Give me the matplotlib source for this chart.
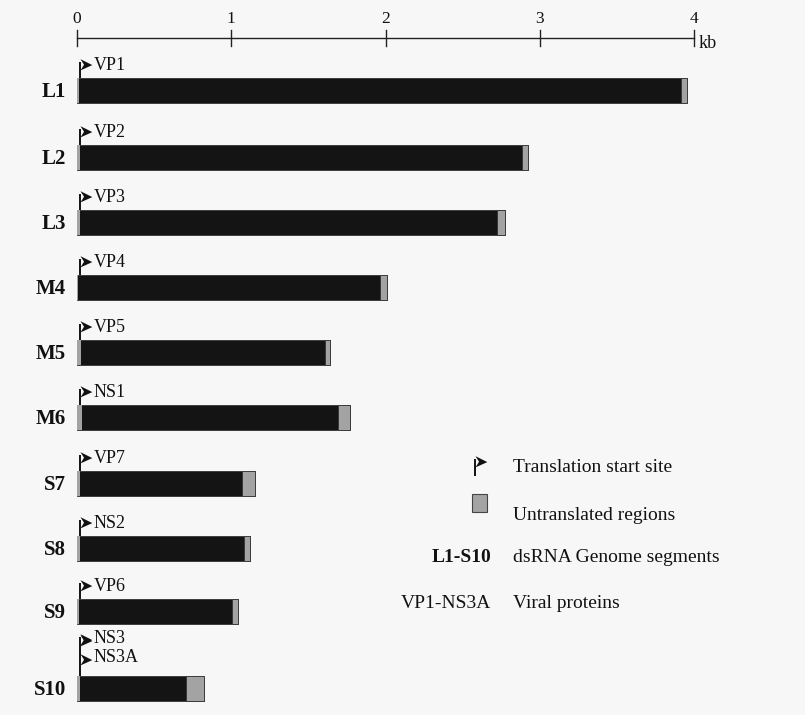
import matplotlib
matplotlib.use("Agg")
import matplotlib.pyplot as plt
from matplotlib.path import Path
from matplotlib.markers import MarkerStyle

# Bluetongue virus genome segments (lengths in kb)
segments = ["L1", "L2", "L3", "M4", "M5", "M6", "S7", "S8", "S9", "S10"]
lengths = [3.954, 2.926, 2.772, 2.011, 1.638, 1.769, 1.156, 1.124, 1.046, 0.822]
utr5 = [0.012, 0.020, 0.017, 0.009, 0.029, 0.034, 0.017, 0.019, 0.015, 0.019]
utr3 = [0.040, 0.039, 0.052, 0.044, 0.028, 0.076, 0.087, 0.040, 0.044, 0.113]
proteins = [["VP1"], ["VP2"], ["VP3"], ["VP4"], ["VP5"], ["NS1"],
            ["VP7"], ["NS2"], ["VP6"], ["NS3", "NS3A"]]
scale_ticks = [0, 1, 2, 3, 4]
scale_unit = "kb"

legend_items = [("flag", "Translation start site"),
                ("box", "Untranslated regions"),
                ("L1-S10", "dsRNA Genome segments"),
                ("VP1-NS3A", "Viral proteins")]

# layout (vertical units are figure pixels, top = 0)
row_y = [90, 157, 222, 287, 352, 417, 483, 548, 611, 688]
bar_h = 25
px_per_kb = 154.25
x0_px = 77

serif = ["Liberation Serif", "DejaVu Serif"]
bar_color = "#141414"
utr_color = "#a3a3a3"
bg = "#f7f7f7"
ink = "#111111"

fig = plt.figure(figsize=(8.05, 7.15), dpi=100, facecolor=bg)
ax = fig.add_axes([0, 0, 1, 1])
ax.set_facecolor(bg)
ax.set_xlim(-x0_px / px_per_kb, (805 - x0_px) / px_per_kb)
ax.set_ylim(715, 0)
ax.axis("off")

# flag-shaped start-site marker (origin at the tail)
flag_path = Path([(0, 0.45), (1.0, -0.05), (0, -0.5), (0.3, -0.02), (0, 0.45)],
                 [Path.MOVETO, Path.LINETO, Path.LINETO, Path.LINETO, Path.CLOSEPOLY])
flag_marker = MarkerStyle(flag_path)
flag_size = 17


def put_flag(x, y):
    ax.plot([x], [y], marker=flag_marker, markersize=flag_size,
            color=ink, markeredgewidth=0)


def draw_flag(x, y_base, height):
    ax.plot([x, x], [y_base, y_base - height], color=ink, lw=1.4,
            solid_capstyle="butt")
    put_flag(x, y_base - height + 2)


# scale bar
ax.plot([0, scale_ticks[-1]], [38, 38], color="#222222", lw=1.0)
for t in scale_ticks:
    ax.plot([t, t], [30, 46], color="#222222", lw=1.0)
    ax.text(t, 19, str(t), ha="center", va="center", fontsize=12.5,
            family=serif, color=ink)
ax.text(scale_ticks[-1] + 0.03, 44, scale_unit, ha="left", va="center",
        fontsize=13, family=serif, color=ink)

# genome segments
ax.barh(row_y, lengths, left=0, height=bar_h, color=bar_color,
        edgecolor="#333333", linewidth=0.6)
ax.barh(row_y, utr5, left=0, height=bar_h, color=utr_color,
        edgecolor="none")
ax.barh(row_y, utr3, left=[l - u for l, u in zip(lengths, utr3)],
        height=bar_h, color=utr_color, edgecolor="#333333", linewidth=0.6)

for name, y, prots in zip(segments, row_y, proteins):
    ax.text(-0.07, y + 2, name, ha="right", va="center", fontsize=15,
            fontweight="bold", family=serif, color=ink)
    top = y - bar_h / 2
    if len(prots) == 1:
        draw_flag(0.02, top, 16)
        ax.text(0.11, top - 12, prots[0], ha="left", va="center",
                fontsize=13, family=serif, color=ink)
    else:
        offsets = [37, 18]
        draw_flag(0.02, top, offsets[0] + 2)
        for p, off in zip(prots, offsets):
            put_flag(0.02, top - off + 1)
            ax.text(0.11, top - off, p, ha="left", va="center",
                    fontsize=13, family=serif, color=ink)

# key
key_x_icon = (479 - x0_px) / px_per_kb
key_x_text = (513 - x0_px) / px_per_kb
key_x_right = (491 - x0_px) / px_per_kb
key_y = [467, 516, 557, 604]
for (kind, desc), ky in zip(legend_items, key_y):
    if kind == "flag":
        draw_flag(key_x_icon - 0.025, ky + 9, 17)
    elif kind == "box":
        ax.bar([key_x_icon], [18], bottom=ky - 22, width=15 / px_per_kb,
               color=utr_color, edgecolor="#444444", linewidth=0.8)
    else:
        ax.text(key_x_right, ky, kind, ha="right", va="center", fontsize=14,
                fontweight="bold" if kind.startswith("L") else "normal",
                family=serif, color=ink)
    ax.text(key_x_text, ky, desc, ha="left", va="center", fontsize=14,
            family=serif, color=ink)

fig.savefig("out.png", dpi=100, facecolor=bg)
